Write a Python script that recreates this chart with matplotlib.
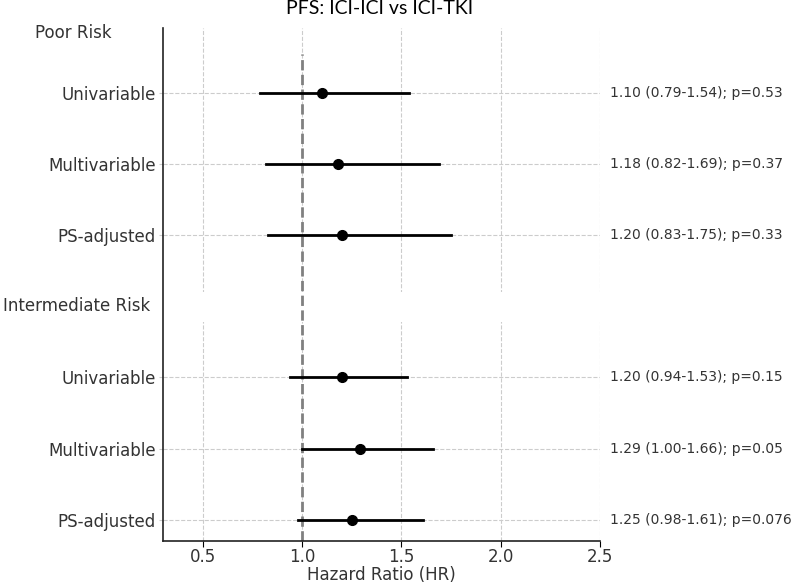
"""Forest plot of PFS hazard ratios, ICI-ICI vs ICI-TKI, by risk group."""

import matplotlib

matplotlib.use("Agg")

import matplotlib.pyplot as plt  # noqa: E402

plt.rcParams["font.family"] = ["DejaVu Sans"]

# Row labels (top to bottom) for each risk group.
groups = ["Poor Risk", "Intermediate Risk"]
models = ["Univariable", "Multivariable", "PS-adjusted"]

# Hazard ratios with 95% CI and p-values.
poor_hr = [1.10, 1.18, 1.20]
poor_lo = [0.79, 0.82, 0.83]
poor_hi = [1.54, 1.69, 1.75]
poor_p = ["0.53", "0.37", "0.33"]

inter_hr = [1.20, 1.29, 1.25]
inter_lo = [0.94, 1.00, 0.98]
inter_hi = [1.53, 1.66, 1.61]
inter_p = ["0.15", "0.05", "0.076"]

x_ticks = [0.5, 1.0, 1.5, 2.0, 2.5]

_TEXT = "#333333"
_GRID = "#cccccc"


def forest_figure() -> plt.Figure:
    figure = plt.figure(figsize=(7.98, 5.85), dpi=100)
    axis = figure.add_axes([0.2043, 0.0752, 0.5476, 0.877])

    hr = poor_hr + inter_hr
    lo = poor_lo + inter_lo
    hi = poor_hi + inter_hi
    pvals = poor_p + inter_p
    # header rows at 0 and 4, model rows in between
    rows = [1, 2, 3, 5, 6, 7]
    labels = models + models

    for y, h, l, u in zip(rows, hr, lo, hi):
        axis.plot([l, u], [y, y], color="black", linewidth=2, zorder=3)
        axis.plot(h, y, "o", color="black", markersize=7, zorder=4)

    for y, h, l, u, p in zip(rows, hr, lo, hi, pvals):
        axis.text(1.022, y, f"{h:.2f} ({l:.2f}-{u:.2f}); p={p}",
                  transform=axis.get_yaxis_transform(), va="center",
                  fontsize=10, color=_TEXT)

    axis.axvline(1.0, ymax=0.95, color="gray", linestyle="--", linewidth=2, zorder=2)

    axis.set_xlim(0.3, 2.5)
    axis.set_ylim(7.3, 0.087)
    axis.set_xticks(x_ticks)
    axis.set_xticklabels([f"{t:.1f}" for t in x_ticks])
    axis.set_yticks(rows)
    axis.set_yticklabels(labels)
    axis.tick_params(axis="y", labelsize=12, labelcolor=_TEXT, length=3, pad=2,
                     color=_GRID)
    axis.tick_params(axis="x", labelsize=12, labelcolor=_TEXT, length=4, pad=1)
    axis.set_xlabel("Hazard Ratio (HR)", fontsize=12, color=_TEXT, labelpad=0)

    axis.grid(True, linestyle="--", color=_GRID, linewidth=0.8)
    axis.set_axisbelow(True)
    # blank band behind the intermediate-risk header
    axis.axhspan(3.796, 4.218, color="white", zorder=1, linewidth=0)

    for side in ("top", "right"):
        axis.spines[side].set_visible(False)
    for side in ("left", "bottom"):
        axis.spines[side].set_color("#222222")
        axis.spines[side].set_linewidth(1.2)

    # group headers sit to the left of the axis
    axis.text(-0.117, 0.16, groups[0], transform=axis.get_yaxis_transform(),
              ha="right", va="center", fontsize=12, color=_TEXT)
    axis.text(-0.03, 4.0, groups[1], transform=axis.get_yaxis_transform(),
              ha="right", va="center", fontsize=12, color=_TEXT)

    figure.text(0.476, 0.985, "PFS: ICI-ICI vs ICI-TKI", ha="center", va="center",
                fontsize=14, family="Lato", color="black")
    return figure


if __name__ == "__main__":
    fig = forest_figure()
    fig.savefig("out.png", dpi=100)
    plt.close(fig)
